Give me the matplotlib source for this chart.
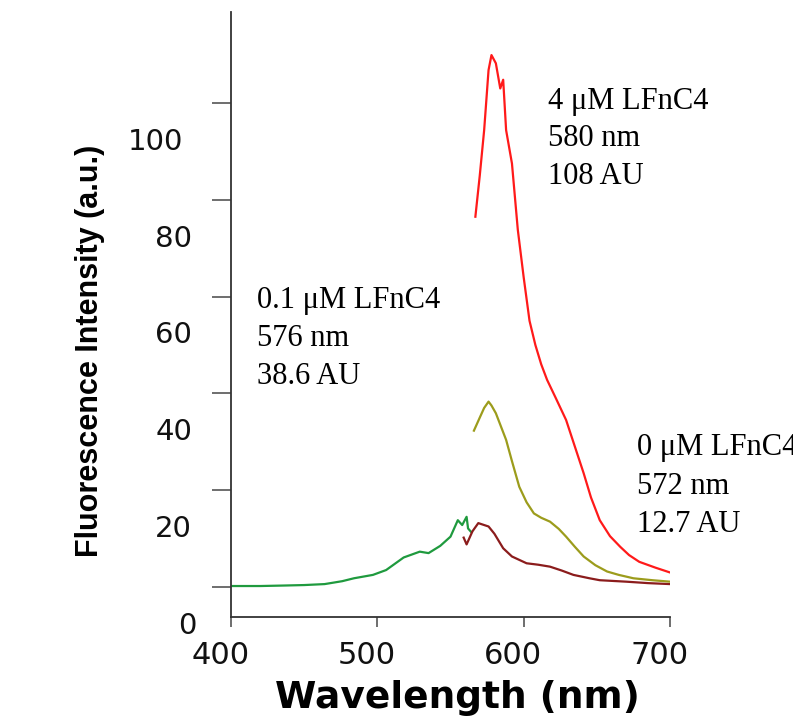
import matplotlib
matplotlib.use("Agg")
import matplotlib.pyplot as plt
from matplotlib.transforms import blended_transform_factory

# ── data ────────────────────────────────────────────────────────────────────────
green_wl = [400, 420, 436, 450, 464, 476, 484, 497, 506, 518, 529, 535, 543, 550, 555, 558, 561, 562, 564]
green_y  = [0.2, 0.2, 0.3, 0.4, 0.6, 1.2, 1.8, 2.5, 3.5, 6.1, 7.3, 7.0, 8.5, 10.4, 13.8, 12.8, 14.5, 12.1, 11.4]

brown_wl = [559, 561, 565, 569, 576, 580, 586, 592, 602, 610, 618, 626, 634, 645, 652, 670, 685, 700]
brown_y  = [10.2, 8.8, 11.5, 13.2, 12.5, 11.0, 8.0, 6.3, 4.9, 4.6, 4.2, 3.4, 2.5, 1.8, 1.4, 1.1, 0.8, 0.6]

olive_wl = [566, 570, 573, 576, 578, 581, 588, 592, 597, 602, 607, 612, 618, 624, 629, 635, 641, 649, 657, 665, 675, 688, 700]
olive_y  = [32.3, 35.0, 37.0, 38.3, 37.5, 35.9, 30.4, 26.0, 20.7, 17.5, 15.2, 14.3, 13.5, 12.0, 10.4, 8.3, 6.3, 4.5, 3.2, 2.5, 1.8, 1.4, 1.1]

red_wl = [567, 570, 573, 576, 578, 581, 584, 586, 588, 592, 596, 600, 604, 608, 612, 616, 622, 629, 635, 641, 646, 652, 659, 666, 672, 679, 690, 700]
red_y  = [76.5, 85.0, 94.4, 106.8, 109.9, 108.2, 103.0, 104.8, 94.4, 87.5, 73.8, 64.0, 55.0, 50.0, 46.0, 42.8, 39.0, 34.5, 29.0, 23.5, 18.5, 13.8, 10.5, 8.3, 6.6, 5.2, 4.0, 3.0]

x_ticks = [400, 500, 600, 700]
y_ticks = [0, 20, 40, 60, 80, 100]

notes = [
    (548, ["4 \u03bcM LFnC4", "580 nm", "108 AU"], 101),
    (257, ["0.1 \u03bcM LFnC4", "576 nm", "38.6 AU"], 300),
    (637, ["0 \u03bcM LFnC4", "572 nm", "12.7 AU"], 448),
]

W, H = 793, 723
fig = plt.figure(figsize=(W / 100, H / 100), dpi=100)
ax = fig.add_axes([231 / W, 1 - 617 / H, 439 / W, 605 / H])

ax.plot(green_wl, green_y, color="#1f9a3e", lw=1.6)
ax.plot(brown_wl, brown_y, color="#8b1c1c", lw=1.6)
ax.plot(olive_wl, olive_y, color="#9c9c1c", lw=1.6)
ax.plot(red_wl, red_y, color="#ff1a1a", lw=1.6)

ax.set_xlim(400, 700)
ax.set_ylim(-6.2, 118.8)
for s in ("top", "right"):
    ax.spines[s].set_visible(False)
for s in ("left", "bottom"):
    ax.spines[s].set_color("#333333")
    ax.spines[s].set_linewidth(1.3)

ax.set_xticks(x_ticks)
ax.set_yticks(y_ticks)
ax.tick_params(axis="x", length=7, width=1.2, color="#555555", labelbottom=False)
ax.tick_params(axis="y", length=13.7, width=1.2, color="#555555", labelleft=False)

# tick labels sit offset from their marks in the original
tx = blended_transform_factory(ax.transData, ax.transAxes)
for v in x_ticks:
    ax.text(v - 7, -0.063, str(v), transform=tx, ha="center", va="center",
            fontsize=22, color="#111111")

ty = blended_transform_factory(fig.transFigure, ax.transData)
for v in y_ticks:
    xr = 192
    if v == 100:
        xr = 183
    elif v == 0:
        xr = 197
    ax.text(xr / W, v - 8, str(v), transform=ty, ha="right", va="center",
            fontsize=21, color="#111111")

fig.text(90 / W, 1 - 351 / H, "Fluorescence Intensity (a.u.)", rotation=90,
         ha="center", va="center", fontsize=22, fontweight="bold",
         fontstretch="condensed", family=["Liberation Sans", "DejaVu Sans"])
fig.text(457 / W, 1 - 698 / H, "Wavelength (nm)", ha="center", va="center",
         fontsize=27, fontweight="bold")

for x0, lines, y0 in notes:
    for i, line in enumerate(lines):
        fig.text(x0 / W, 1 - (y0 + 38 * i) / H, line, ha="left", va="center",
                 fontsize=22, family=["Liberation Serif", "DejaVu Serif"])

fig.savefig("out.png", dpi=100)
